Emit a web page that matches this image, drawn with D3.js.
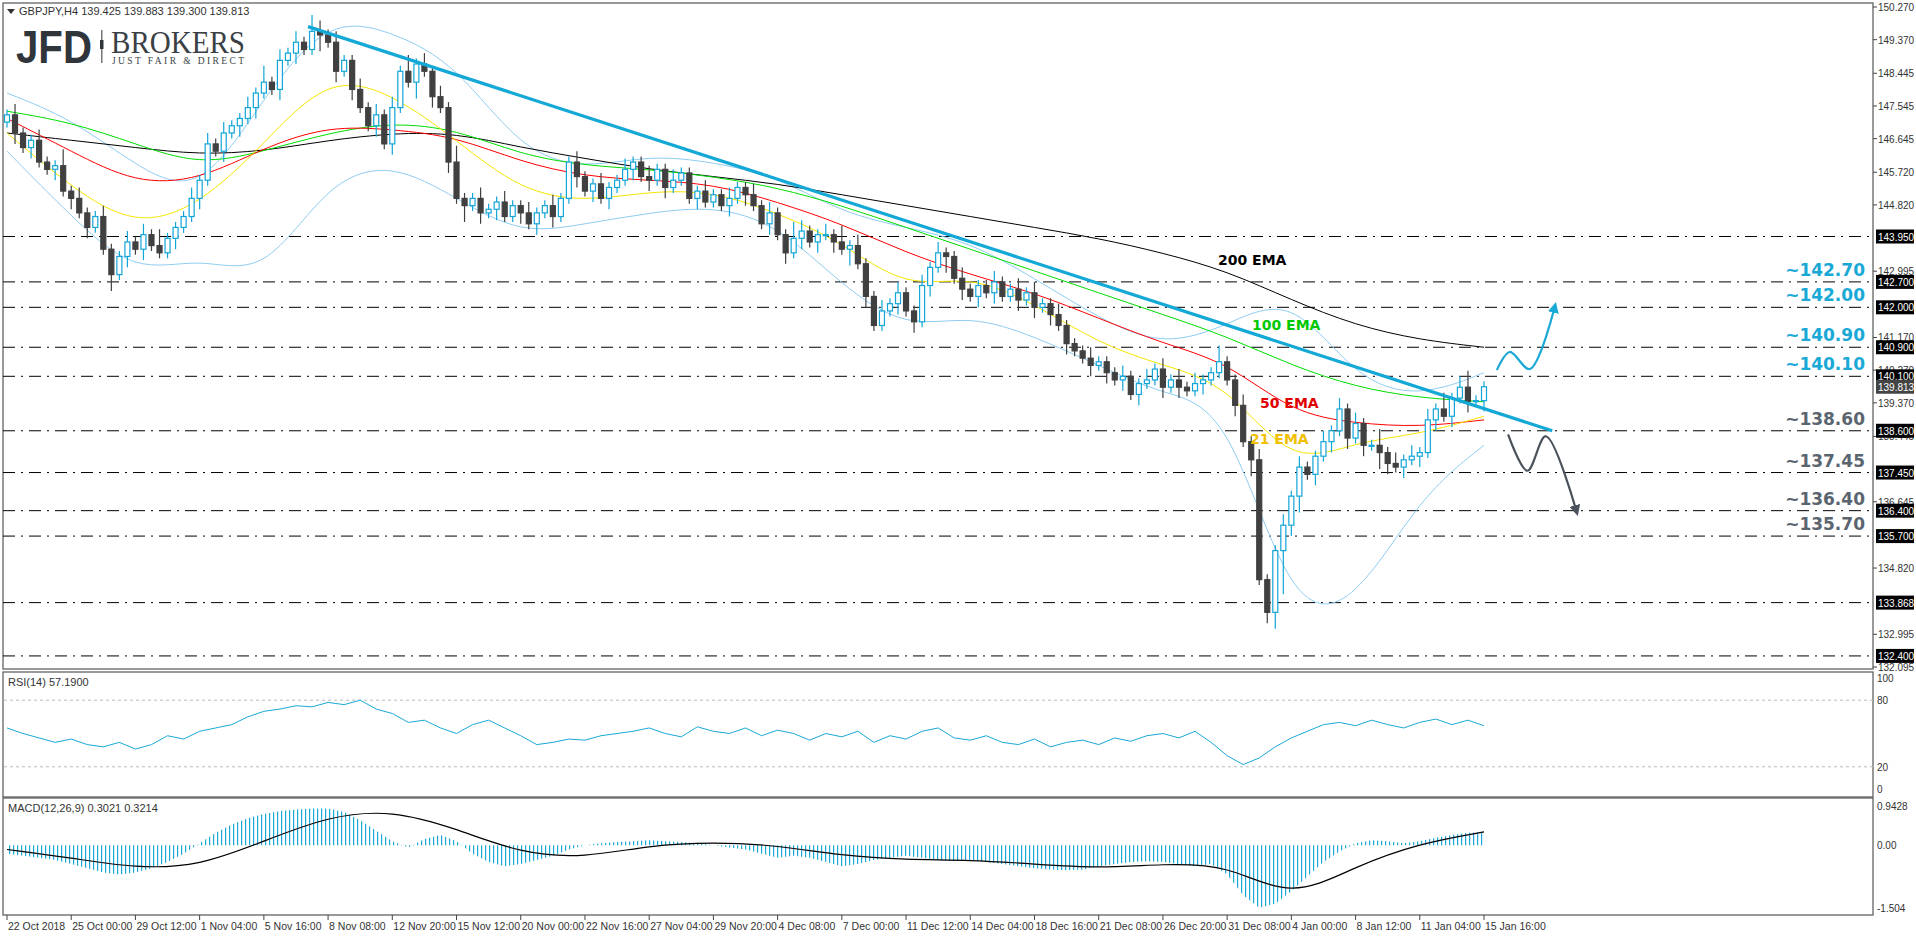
<!DOCTYPE html>
<html><head><meta charset="utf-8">
<script src="https://cdn.jsdelivr.net/npm/d3@7"></script>
<style>body{margin:0;background:#fff}svg{display:block;font-family:"Liberation Sans",Arial,sans-serif}</style>
</head><body><svg width="1916" height="936"></svg>
<script>
'use strict';

// closes, one per 8 hours (two H4 bars)
const closes = [
147.3,146.8,146.4,146.6,146.0,145.8,145.9,145.2,145.0,144.6,
144.2,144.5,143.6,142.9,143.4,143.8,143.6,144.0,143.7,143.5,
143.9,144.2,144.5,145.0,145.5,146.5,146.3,146.8,147.0,147.2,
147.5,147.9,148.2,148.0,148.8,149.0,149.3,149.1,149.6,149.5,
149.3,148.5,148.8,148.0,147.5,147.0,147.3,146.5,147.5,148.5,
148.2,148.7,148.5,147.8,147.5,146.0,145.0,144.8,145.0,144.6,
144.7,144.9,144.5,144.8,144.6,144.3,144.6,144.8,144.5,145.0,
146.0,145.6,145.2,145.4,145.0,145.3,145.5,145.8,146.0,145.6,
145.5,145.8,145.3,145.5,145.7,145.0,145.2,144.9,145.1,144.8,
145.0,145.3,145.1,144.8,144.3,144.6,144.0,143.5,143.9,144.1,
143.8,144.0,144.0,143.8,143.6,143.7,143.2,142.3,141.5,141.9,
142.1,142.4,141.9,141.6,142.6,143.1,143.5,143.4,142.8,142.5,
142.3,142.6,142.4,142.7,142.3,142.5,142.2,142.4,142.0,142.1,
141.8,141.5,141.0,140.8,140.6,140.4,140.5,140.2,140.0,140.1,
139.6,139.9,140.0,140.3,139.8,140.0,139.8,139.7,139.9,140.0,
140.2,140.5,140.0,139.3,138.3,137.8,134.5,133.6,135.3,136.0,
136.8,137.6,137.4,137.9,138.3,138.6,139.2,138.4,138.8,138.2,
138.2,138.0,137.7,137.6,137.8,137.9,138.0,138.9,139.2,139.0,
139.5,139.8,139.4,139.43,139.813];
const firstOpen = 147.1;
// wick lengths in steps of 0.15
const wickUp = "1211211312112112121311121212112131212132121121212131212131121121121121121121121121121112112112121132112131211212112121121112112121121112111211212121211311212112121121212113121212131231121213121311";
const wickDn = "1212112121211312121112112112121211212113121211212113121213121211212121121212112121211121112121121212121213121112121213121212112121212112121212112121121112131238231212121213212121212121212";

const dateLabels = ["22 Oct 2018","25 Oct 00:00","29 Oct 12:00","1 Nov 04:00","5 Nov 16:00","8 Nov 08:00",
  "12 Nov 20:00","15 Nov 12:00","20 Nov 00:00","22 Nov 16:00","27 Nov 04:00","29 Nov 20:00","4 Dec 08:00",
  "7 Dec 00:00","11 Dec 12:00","14 Dec 04:00","18 Dec 16:00","21 Dec 08:00","26 Dec 20:00","31 Dec 08:00",
  "4 Jan 00:00","8 Jan 12:00","11 Jan 04:00","15 Jan 16:00"];

// indicator values read at each date tick (every 8 bars)
const ema200 = [146.8,146.6,146.4,146.2,146.3,146.6,146.8,146.8,146.4,146.1,145.8,145.6,145.4,145.1,144.8,144.5,144.2,143.9,143.5,143.0,142.2,141.5,141.1,140.9];
const ema100 = [147.4,147.1,146.5,145.9,146.3,146.8,147.1,146.9,146.2,145.9,145.8,145.6,145.3,144.8,144.2,143.6,143.0,142.4,141.8,141.2,140.4,139.8,139.5,139.4];
const ema50  = [147.2,146.3,145.4,145.5,146.4,147.0,146.9,146.7,146.0,145.6,145.5,145.4,144.9,144.3,143.5,142.9,142.4,141.7,141.0,140.5,139.1,138.8,138.7,138.9];
const ema21  = [146.8,145.3,144.2,144.8,146.5,148.4,147.9,146.6,145.2,144.9,145.2,145.2,144.6,143.8,142.5,142.9,142.1,141.0,140.4,139.9,137.6,138.3,138.5,139.0];
const bbUp   = [147.9,147.2,145.9,145.0,147.8,150.0,149.6,148.7,146.3,145.8,146.2,146.0,145.6,144.6,144.2,143.8,142.8,141.7,140.9,141.5,142.4,140.0,139.5,140.2];
const bbLo   = [146.3,144.5,142.9,143.4,142.8,145.5,146.0,145.0,144.0,144.3,144.6,144.8,144.3,142.6,141.4,141.8,141.2,140.4,139.6,139.3,133.5,133.8,136.8,138.2];
const signal = [-0.1,-0.3,-0.55,-0.5,0.1,0.7,0.85,0.4,-0.2,-0.3,0.0,0.08,0.0,-0.25,-0.35,-0.35,-0.45,-0.55,-0.45,-0.45,-1.3,-0.5,0.05,0.32];

// RSI and MACD main, every 2 bars
const rsi = [55,50,46,42,45,40,38,42,36,40,48,45,52,55,58,65,70,72,75,74,78,76,80,72,68,60,62,55,50,58,
  62,55,48,40,42,45,44,48,50,52,55,50,47,56,52,50,55,48,53,50,44,50,47,52,42,48,45,52,55,46,
  44,48,42,40,45,38,42,44,40,46,43,48,50,46,52,42,30,22,28,38,46,52,58,60,57,62,58,55,60,63,58,62,57];
const macd = [-0.2,-0.25,-0.3,-0.35,-0.45,-0.55,-0.65,-0.7,-0.65,-0.55,-0.4,-0.2,0.05,0.3,0.5,0.65,0.75,0.82,0.86,0.88,
  0.88,0.8,0.6,0.35,0.1,-0.05,0.15,0.25,0.1,-0.2,-0.4,-0.5,-0.45,-0.35,-0.25,-0.1,0.0,0.05,0.08,0.1,
  0.12,0.1,0.08,0.05,0.0,-0.05,-0.1,-0.2,-0.3,-0.25,-0.3,-0.4,-0.5,-0.45,-0.35,-0.3,-0.25,-0.3,-0.35,-0.38,
  -0.35,-0.4,-0.45,-0.5,-0.55,-0.58,-0.6,-0.58,-0.5,-0.45,-0.4,-0.38,-0.4,-0.45,-0.5,-0.45,-0.7,-1.2,-1.5,-1.4,
  -1.1,-0.75,-0.4,-0.15,0.05,0.12,0.1,0.05,0.1,0.18,0.25,0.3,0.32];

const levels = [143.95,142.70,142.00,140.90,140.10,138.60,137.45,136.40,135.70,133.868,132.40];
const priceTicks = [150.270,149.370,148.445,147.545,146.645,145.720,144.820,142.995,141.170,140.270,139.370,138.445,136.645,134.820,132.995,132.095];
const notes = [["~142.70",142.70,"#1aa9d6"],["~142.00",142.00,"#1aa9d6"],["~140.90",140.90,"#1aa9d6"],["~140.10",140.10,"#1aa9d6"],
  ["~138.60",138.60,"#5b6570"],["~137.45",137.45,"#5b6570"],["~136.40",136.40,"#5b6570"],["~135.70",135.70,"#5b6570"]];
const trend = [[37.5,149.73],[192.5,138.6]];
const upPath = [[185.6,140.27],[187.2,140.77],[189.7,140.3],[192.8,142.0]];
const downPath = [[187,138.5],[189.4,137.5],[191.7,138.45],[195.5,136.4]];

const svg = d3.select("svg");
const AX = 1873;
const x = d3.scaleLinear().domain([0,184]).range([7,1484]);
const y = d3.scaleLinear().domain([132.095,150.270]).range([667,7]);
const yR = d3.scaleLinear().domain([0,100]).range([789,678]);
const yM = d3.scaleLinear().domain([-1.504,0.9428]).range([908,806]);

const defs = svg.append("defs");
defs.append("clipPath").attr("id","mc").append("rect").attr("x",3).attr("y",3).attr("width",AX-3).attr("height",666);
defs.append("marker").attr("id","ac").attr("viewBox","0 0 10 10").attr("refX",5).attr("refY",5)
  .attr("markerWidth",5).attr("markerHeight",5).attr("orient","auto")
  .append("path").attr("d","M0,0L10,5L0,10z").attr("fill","#1aa9d6");
defs.append("marker").attr("id","ag").attr("viewBox","0 0 10 10").attr("refX",5).attr("refY",5)
  .attr("markerWidth",5).attr("markerHeight",5).attr("orient","auto")
  .append("path").attr("d","M0,0L10,5L0,10z").attr("fill","#4a535c");
const pat = defs.append("pattern").attr("id","hist").attr("patternUnits","userSpaceOnUse").attr("width",4).attr("height",10);
pat.append("rect").attr("x",1).attr("width",1.2).attr("height",10).attr("fill","#1aa9d6");

// panel frames
[[3,3,666],[3,672,125],[3,798,117]].forEach(([px,py,ph]) =>
  svg.append("rect").attr("x",px).attr("y",py).attr("width",AX-px).attr("height",ph)
    .attr("fill","none").attr("stroke","#555").attr("stroke-width",1.2));

const main = svg.append("g").attr("clip-path","url(#mc)");

// levels
main.selectAll("line.lv").data(levels).join("line").attr("class","lv")
  .attr("x1",3).attr("x2",AX).attr("y1",d=>y(d)).attr("y2",d=>y(d))
  .attr("stroke","#000").attr("stroke-dasharray","12,6,2,6");

const tickX = i => x(i*8);
const ln = (arr, curve) => d3.line().x((d,i)=>tickX(i)).y(d=>y(d)).curve(curve||d3.curveBasis)(arr);
[[bbUp,"#8ecdf3"],[bbLo,"#8ecdf3"],[ema200,"#000"],[ema100,"#00dd00"],[ema50,"#ff0000"],[ema21,"#f5e600"]]
  .forEach(([a,c]) => main.append("path").attr("d",ln(a)).attr("fill","none").attr("stroke",c).attr("stroke-width",1));

// candles
const candles = closes.map((c,i) => {
  const o = i ? closes[i-1] : firstOpen;
  return {i,o,c,h:Math.max(o,c)+(+wickUp[i])*0.15,l:Math.min(o,c)-(+wickDn[i])*0.15};
});
const cg = main.append("g").selectAll("g").data(candles).join("g");
cg.append("line").attr("x1",d=>x(d.i)).attr("x2",d=>x(d.i)).attr("y1",d=>y(d.h)).attr("y2",d=>y(d.l))
  .attr("stroke",d=>d.c>=d.o?"#12a5d8":"#404040").attr("stroke-width",1.2);
cg.append("rect").attr("x",d=>x(d.i)-2.5).attr("width",5)
  .attr("y",d=>y(Math.max(d.o,d.c))).attr("height",d=>Math.max(1,Math.abs(y(d.o)-y(d.c))))
  .attr("fill",d=>d.c>=d.o?"#fff":"#404040").attr("stroke",d=>d.c>=d.o?"#12a5d8":"#404040").attr("stroke-width",1.2);

// trendline & scenarios
const pl = d3.line().x(d=>x(d[0])).y(d=>y(d[1]));
main.append("path").attr("d",pl(trend)).attr("stroke","#14a8d6").attr("stroke-width",3.2).attr("fill","none");
main.append("path").attr("d",pl.curve(d3.curveCatmullRom)(upPath)).attr("stroke","#1aa9d6").attr("stroke-width",2.2)
  .attr("fill","none").attr("marker-end","url(#ac)");
main.append("path").attr("d",pl.curve(d3.curveCatmullRom)(downPath)).attr("stroke","#4a535c").attr("stroke-width",2.2)
  .attr("fill","none").attr("marker-end","url(#ag)");

// EMA labels
[["200 EMA",1218,265,"#000"],["100 EMA",1252,330,"#00c800"],["50 EMA",1260,408,"#e00000"],["21 EMA",1250,444,"#f0c000"]]
  .forEach(([t,tx,ty,c]) => svg.append("text").attr("x",tx).attr("y",ty).attr("fill",c)
    .attr("font-family","DejaVu Sans").attr("font-size",14).attr("font-weight","bold").text(t));

// notes
svg.selectAll("text.nt").data(notes).join("text").attr("class","nt")
  .attr("x",1865).attr("y",d=>y(d[1])-6).attr("text-anchor","end").attr("fill",d=>d[2])
  .attr("font-family","DejaVu Sans").attr("font-size",17).attr("font-weight","bold").text(d=>d[0]);

// price axis
svg.selectAll("g.pt").data(priceTicks).join("g").attr("class","pt").each(function(d){
  const g = d3.select(this);
  g.append("line").attr("x1",AX).attr("x2",AX+4).attr("y1",y(d)).attr("y2",y(d)).attr("stroke","#444");
  g.append("text").attr("x",AX+5).attr("y",y(d)+4).attr("font-size",10).attr("fill","#333").text(d.toFixed(3));
});
svg.selectAll("g.lb").data(levels).join("g").attr("class","lb").each(function(d){
  const g = d3.select(this);
  g.append("rect").attr("x",AX+3).attr("y",y(d)-7).attr("width",38).attr("height",14).attr("fill","#000");
  g.append("text").attr("x",AX+5).attr("y",y(d)+4).attr("font-size",10).attr("fill","#fff").text(d.toFixed(3));
});
svg.append("rect").attr("x",AX+3).attr("y",y(139.813)-7).attr("width",38).attr("height",14).attr("fill","#444");
svg.append("text").attr("x",AX+5).attr("y",y(139.813)+4).attr("font-size",10).attr("fill","#fff").text("139.813");

// RSI
[80,20].forEach(v => svg.append("line").attr("x1",4).attr("x2",AX).attr("y1",yR(v)).attr("y2",yR(v))
  .attr("stroke","#bbb").attr("stroke-dasharray","3,3"));
svg.append("path").attr("d",d3.line().x((d,i)=>x(i*2)).y(d=>yR(d))(rsi)).attr("fill","none").attr("stroke","#1aa9d6");
[100,80,20,0].forEach(v => svg.append("text").attr("x",AX+4).attr("y",yR(v)+4)
  .attr("font-size",10).attr("fill","#333").text(v));
svg.append("text").attr("x",8).attr("y",686).attr("font-size",11).attr("fill","#333").text("RSI(14) 57.1900");

// MACD
svg.append("path").attr("d",d3.area().x((d,i)=>x(i*2)).y0(yM(0)).y1(d=>yM(d))(macd)).attr("fill","url(#hist)");
svg.append("path").attr("d",d3.line().x((d,i)=>tickX(i)).y(d=>yM(d)).curve(d3.curveBasis)(signal))
  .attr("fill","none").attr("stroke","#000").attr("stroke-width",1.2);
[0.9428,0,-1.504].forEach(v => svg.append("text").attr("x",AX+4).attr("y",yM(v)+4)
  .attr("font-size",10).attr("fill","#333").text(v===0?"0.00":v));
svg.append("text").attr("x",8).attr("y",812).attr("font-size",11).attr("fill","#333").text("MACD(12,26,9) 0.3021 0.3214");

// time axis
svg.selectAll("g.dt").data(dateLabels).join("g").attr("class","dt").each(function(d,i){
  const g = d3.select(this), tx = tickX(i);
  g.append("line").attr("x1",tx).attr("x2",tx).attr("y1",915).attr("y2",920).attr("stroke","#444");
  g.append("text").attr("x",tx+1).attr("y",930).attr("font-size",10.5).attr("fill","#333").text(d);
});

// header & logo
svg.append("path").attr("d","M7,9L15,9L11,14z").attr("fill","#333");
svg.append("text").attr("x",19).attr("y",15).attr("font-size",11).attr("fill","#333").text("GBPJPY,H4  139.425 139.883 139.300 139.813");
svg.append("text").attr("x",16).attr("y",63).attr("font-size",46).attr("font-weight","bold").attr("fill","#30353b")
  .attr("textLength",76).attr("lengthAdjust","spacingAndGlyphs").text("JFD");
svg.append("rect").attr("x",101).attr("y",30).attr("width",1.5).attr("height",33).attr("fill","#777");
svg.append("rect").attr("x",100).attr("y",40).attr("width",3.5).attr("height",9).attr("fill","#30353b");
svg.append("text").attr("x",111).attr("y",53).attr("font-size",31).attr("fill","#3a3f45")
  .attr("font-family","Liberation Serif").attr("textLength",134).attr("lengthAdjust","spacingAndGlyphs").text("BROKERS");
svg.append("text").attr("x",112).attr("y",64).attr("font-size",9.5).attr("fill","#3a3f45")
  .attr("font-family","Liberation Serif").attr("textLength",132).text("JUST FAIR & DIRECT");
</script></body></html>
